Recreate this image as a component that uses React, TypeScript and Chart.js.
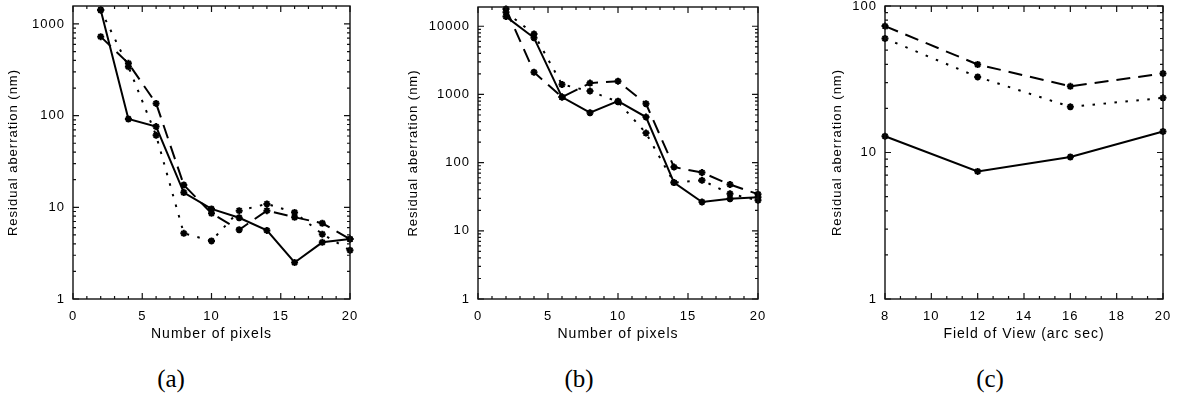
import React, { useEffect, useRef } from 'react';
import { Chart, registerables } from 'chart.js';

Chart.register(...registerables);

// ---- data ----
const pixelSteps = [2, 4, 6, 8, 10, 12, 14, 16, 18, 20];
const aSolid = [1420, 92, 76, 14.5, 9.6, 7.7, 5.6, 2.5, 4.15, 4.5];
const aDashed = [727, 372, 136, 17.5, 8.6, 5.7, 9.2, 7.8, 6.7, 4.5];
const aDotted = [1420, 342, 61, 5.2, 4.3, 9.2, 10.9, 8.8, 5.1, 3.4];

const bSolid = [13860, 6780, 914, 540, 798, 466, 51, 26.5, 29.5, 31];
const bDashed = [17960, 2120, 914, 1466, 1567, 731, 86, 71.5, 47.7, 34.5];
const bDotted = [16020, 7730, 1400, 1120, 780, 271, 51, 55, 35, 28];

const fovSteps = [8, 12, 16, 20];
const cSolid = [12.9, 7.43, 9.31, 13.9];
const cDashed = [72.9, 39.9, 28.3, 34.6];
const cDotted = [60, 32.8, 20.5, 23.6];

const xTicksAB = [0, 5, 10, 15, 20];
const xTicksC = [8, 10, 12, 14, 16, 18, 20];
const yTicksA = [1, 10, 100, 1000];
const yTicksB = [1, 10, 100, 1000, 10000];
const yTicksC = [1, 10, 100];

const yTitle = 'Residual aberration (nm)';

type Panel = {
  xs: number[];
  solid: number[];
  dashed: number[];
  dotted: number[];
  xMin: number;
  xMax: number;
  xTicks: number[];
  xMinorStep: number;
  yMax: number;
  yTicks: number[];
  xTitle: string;
  caption: string;
  captionX: number;
  left: number;
  width: number;
  yW: number;
  top: number;
};

const panels: Panel[] = [
  {
    xs: pixelSteps, solid: aSolid, dashed: aDashed, dotted: aDotted,
    xMin: 0, xMax: 20, xTicks: xTicksAB, xMinorStep: 1,
    yMax: 1570, yTicks: yTicksA, xTitle: 'Number of pixels', caption: '(a)',
    captionX: 171, left: 4, width: 358, yW: 69, top: 6,
  },
  {
    xs: pixelSteps, solid: bSolid, dashed: bDashed, dotted: bDotted,
    xMin: 0, xMax: 20, xTicks: xTicksAB, xMinorStep: 1,
    yMax: 19170, yTicks: yTicksB, xTitle: 'Number of pixels', caption: '(b)',
    captionX: 579, left: 404, width: 366, yW: 74, top: 7,
  },
  {
    xs: fovSteps, solid: cSolid, dashed: cDashed, dotted: cDotted,
    xMin: 8, xMax: 20, xTicks: xTicksC, xMinorStep: 2 / 3,
    yMax: 100, yTicks: yTicksC, xTitle: 'Field of View (arc sec)', caption: '(c)',
    captionX: 990, left: 828, width: 347, yW: 57, top: 6,
  },
];

const frameTicks = {
  id: 'frameTicks',
  beforeDraw(chart: any) {
    (chart.ctx as any).letterSpacing = '1px';
  },
  afterDraw(chart: any, _args: any, opts: any) {
    const { ctx, chartArea: ca, scales } = chart;
    const x = scales.x;
    const y = scales.y;
    ctx.save();
    (ctx as any).letterSpacing = '0px';
    ctx.strokeStyle = '#111';
    ctx.lineWidth = 1.2;
    const major = 6;
    const minor = 3;
    ctx.beginPath();
    // x ticks (bottom and top, inward)
    const xMin = opts.xMin;
    const xMax = opts.xMax;
    const step = opts.xMinorStep;
    const n = Math.round((xMax - xMin) / step);
    for (let i = 0; i <= n; i++) {
      const v = xMin + i * step;
      const isMajor = opts.xTicks.some((t: number) => Math.abs(t - v) < 1e-6);
      const len = isMajor ? major : minor;
      const px = x.getPixelForValue(v);
      ctx.moveTo(px, ca.bottom);
      ctx.lineTo(px, ca.bottom - len);
      ctx.moveTo(px, ca.top);
      ctx.lineTo(px, ca.top + len);
    }
    // y ticks (left and right, inward)
    for (let d = 1; d <= opts.yMax; d *= 10) {
      for (let m = 1; m <= 9; m++) {
        const v = d * m;
        if (v > opts.yMax) break;
        const len = m === 1 ? major : minor;
        const py = y.getPixelForValue(v);
        ctx.moveTo(ca.left, py);
        ctx.lineTo(ca.left + len, py);
        ctx.moveTo(ca.right, py);
        ctx.lineTo(ca.right - len, py);
      }
    }
    ctx.stroke();
    ctx.lineWidth = 1.4;
    ctx.strokeRect(ca.left, ca.top, ca.right - ca.left, ca.bottom - ca.top);
    ctx.restore();
  },
};

function makeDataset(xs: number[], ys: number[], style: 'solid' | 'dashed' | 'dotted') {
  const dash = style === 'dashed' ? [14, 8] : style === 'dotted' ? [2.5, 8.5] : [];
  return {
    data: xs.map((v, i) => ({ x: v, y: ys[i] })),
    borderColor: '#000',
    backgroundColor: '#000',
    borderWidth: 2,
    borderDash: dash,
    pointStyle: 'star',
    pointRadius: 3.5,
    pointBorderWidth: 2,
    pointBorderColor: '#000',
    pointBackgroundColor: '#000',
    tension: 0,
    fill: false,
    clip: false,
  };
}

function PanelChart({ p }: { p: Panel }) {
  const ref = useRef<HTMLCanvasElement | null>(null);
  useEffect(() => {
    if (!ref.current) return;
    const chart = new Chart(ref.current, {
      type: 'line',
      data: {
        datasets: [
          makeDataset(p.xs, p.solid, 'solid'),
          makeDataset(p.xs, p.dashed, 'dashed'),
          makeDataset(p.xs, p.dotted, 'dotted'),
        ] as any,
      },
      options: {
        responsive: false,
        animation: false,
        devicePixelRatio: 1,
        layout: { padding: { left: 0, right: 12, top: p.top, bottom: 11 } },
        plugins: {
          legend: { display: false },
          tooltip: { enabled: false },
          frameTicks: {
            xMin: p.xMin, xMax: p.xMax, xTicks: p.xTicks, xMinorStep: p.xMinorStep, yMax: p.yMax,
          },
        } as any,
        scales: {
          x: {
            type: 'linear',
            min: p.xMin,
            max: p.xMax,
            afterBuildTicks: (s: any) => {
              s.ticks = p.xTicks.map((v) => ({ value: v }));
            },
            afterFit: (s: any) => {
              s.height = 50;
              s.paddingLeft = 0;
              s.paddingRight = 0;
            },
            grid: { display: false, drawTicks: false },
            border: { display: false },
            ticks: {
              autoSkip: false,
              maxRotation: 0,
              padding: 10,
              color: '#000',
              font: { size: 13 },
              callback: (v: any) => String(v),
            },
            title: {
              display: true,
              text: p.xTitle,
              color: '#000',
              font: { size: 14 },
              padding: { top: 0, bottom: 6 },
            },
          },
          y: {
            type: 'logarithmic',
            min: 1,
            max: p.yMax,
            afterBuildTicks: (s: any) => {
              s.ticks = p.yTicks.map((v) => ({ value: v }));
            },
            afterFit: (s: any) => {
              s.width = p.yW;
              s.paddingTop = 0;
              s.paddingBottom = 0;
            },
            grid: { display: false, drawTicks: false },
            border: { display: false },
            ticks: {
              autoSkip: false,
              padding: 8,
              color: '#000',
              font: { size: 13 },
              callback: (v: any) => String(v),
            },
            title: {
              display: true,
              text: yTitle,
              color: '#000',
              font: { size: 13 },
              padding: { top: 2, bottom: 0 },
            },
          },
        } as any,
      },
      plugins: [frameTicks as any],
    });
    return () => chart.destroy();
  }, [p]);
  return (
    <canvas
      ref={ref}
      width={p.width}
      height={360}
      style={{ position: 'absolute', left: p.left, top: 0, width: p.width, height: 360 }}
    />
  );
}

export default function App() {
  Chart.defaults.font.family = "'Liberation Sans', Arial, sans-serif";
  Chart.defaults.color = '#000';
  return (
    <div style={{ position: 'fixed', left: 0, top: 0, width: 1179, height: 400, background: '#fff', overflow: 'hidden' }}>
      {panels.map((p, i) => (
        <PanelChart key={i} p={p} />
      ))}
      {panels.map((p, i) => (
        <div
          key={'c' + i}
          style={{
            position: 'absolute',
            left: p.captionX - 50,
            top: 365.5,
            width: 100,
            textAlign: 'center',
            fontFamily: "'Liberation Serif', 'DejaVu Serif', serif",
            fontSize: 25,
            lineHeight: '25px',
            color: '#000',
          }}
        >
          {p.caption}
        </div>
      ))}
    </div>
  );
}
